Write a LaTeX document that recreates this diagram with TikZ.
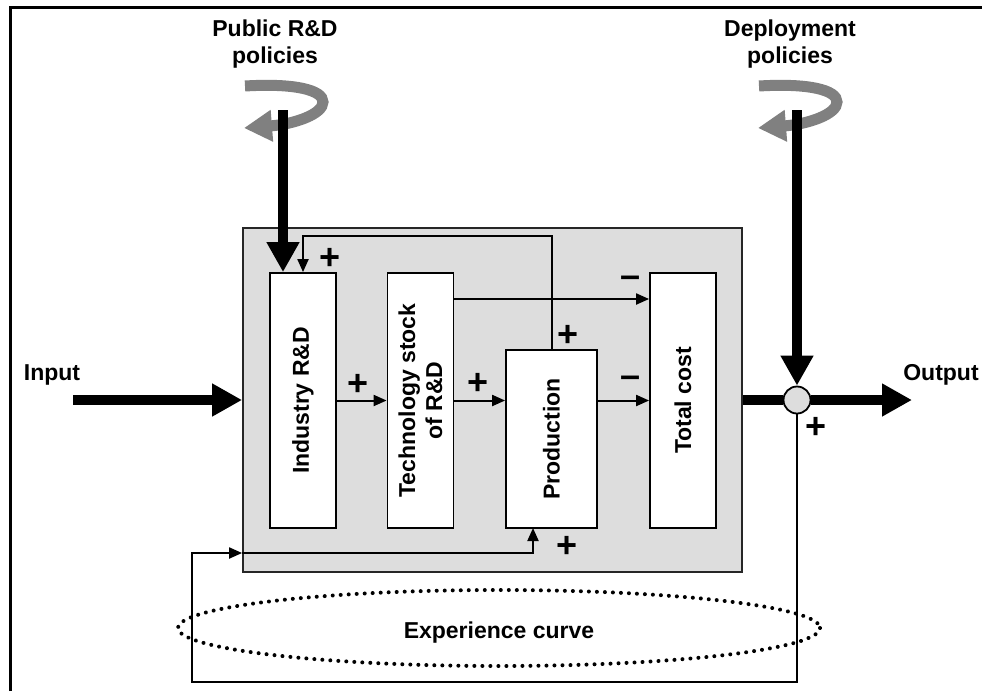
\documentclass[tikz,border=0pt]{standalone}
\usepackage{fontspec}
\setmainfont{Liberation Sans}
\usetikzlibrary{arrows.meta}
\definecolor{boxgray}{RGB}{221,221,221}
\definecolor{swirlgray}{RGB}{128,128,128}
\begin{document}
\begin{tikzpicture}[x=1pt,y=-1pt,
  lbl/.style={font=\fontsize{23}{27}\selectfont\bfseries, inner sep=0pt, align=center},
  sign/.style={font=\fontsize{36}{36}\selectfont\bfseries, inner sep=0pt},
  blk/.style={draw=black, line width=1.8pt, fill=white, inner sep=0pt},
  thkline/.style={line width=10.5pt},
  thkarrow/.style={line width=10.5pt, -{Triangle[length=30pt,width=31pt]}},
  thinarrow/.style={line width=2pt, -{Triangle[length=13pt,width=11pt]}},
  swirl/.pic={
    \draw[swirlgray, line width=11pt, -{Triangle[length=28pt,width=30pt]}]
      (-38,86) .. controls (12,83) and (40,90) .. (40,102)
      .. controls (40,114) and (12,124) .. (-39,128);
  },
]
\useasboundingbox (0,0) rectangle (982,691);
\fill[white] (0,0) rectangle (982,691);
\draw[line width=3pt] (10,691) -- (10,7.5) -- (982,7.5);

% system box
\node[draw=black!85, line width=1.8pt, fill=boxgray, minimum width=499pt, minimum height=344pt, inner sep=0pt] (sys) at (492.5,400) {};

% blocks
\node[blk, minimum width=66pt, minimum height=255pt] (ind) at (303,400.5) {};
\node[blk, minimum width=66pt, minimum height=255pt] (tech) at (420.5,400.5) {};
\node[blk, minimum width=91pt, minimum height=178pt] (prod) at (551.5,439) {};
\node[blk, minimum width=66pt, minimum height=255pt] (tot) at (683,400.5) {};

\node[lbl, rotate=90] (indt) at (ind) {Industry R\&D};
\node[lbl, rotate=90] (techt) at (tech) {Technology stock\\of R\&D};
\node[lbl, rotate=90] (prodt) at (prod) {Production};
\node[lbl, rotate=90] (tott) at (tot) {Total cost};

% sum junction
\node[circle, draw=black, line width=1.8pt, fill=boxgray, minimum size=27pt, inner sep=0pt] (sum) at (797,400) {};

% labels
\node[lbl, anchor=base] (inlbl) at (52,380) {Input};
\node[lbl, anchor=base] (outlbl) at (941,380) {Output};
\node[lbl, anchor=north] (publbl) at (275,20) {Public R\&D\\policies};
\node[lbl, anchor=north] (deplbl) at (790,20) {Deployment\\policies};

% swirls
\pic at (283,0) {swirl};
\pic at (797,0) {swirl};

% thick flows
\coordinate (in0) at (73,400);
\coordinate (out0) at (912,400);
\coordinate (pub0) at (283,110);
\coordinate (dep0) at (797,110);
\draw[thkarrow] (in0) -- (sys.west);
\draw[thkline] (sys.east) -- (sum.west);
\draw[thkarrow] (sum.east) -- (out0);
\draw[thkarrow] (pub0) -- (pub0 |- ind.north);
\draw[thkarrow] (dep0) -- (sum.north);

% internal thin flows
\draw[thinarrow] (ind.east) -- (tech.west);
\draw[thinarrow] (tech.east) -- (tech.east -| prod.west);
\draw[thinarrow] (prod.east |- tot.west) -- (tot.west);
\coordinate (ty) at (0,299);
\draw[thinarrow] (tech.east |- ty) -- (tot.west |- ty);
\coordinate (fb) at (303,236);
\draw[thinarrow] (prod.north) |- (fb) -- (fb |- ind.north);

% experience loop
\coordinate (el) at (192,553);
\coordinate (pb) at (533,528);
\draw[thinarrow] (sum.south) |- (192,682) -- (el) -- (el -| sys.west);
\draw[thinarrow] (el -| sys.west) -| (pb);

% signs
\node[sign] (s1) at (330,259) {+};
\node[sign] (s2) at (358,385) {+};
\node[sign] (s3) at (478,384) {+};
\node[sign] (s4) at (631,382) {–};
\node[sign] (s5) at (631,282) {–};
\node[sign] (s6) at (568,336) {+};
\node[sign] (s7) at (567,547) {+};
\node[sign] (s8) at (816,428) {+};

% experience curve
\draw[line width=4pt, line cap=round, dash pattern=on 0.01pt off 8pt] (499,628) ellipse [x radius=321, y radius=38];
\node[lbl, anchor=base] (exp) at (499,638) {Experience curve};
\end{tikzpicture}
\end{document}
